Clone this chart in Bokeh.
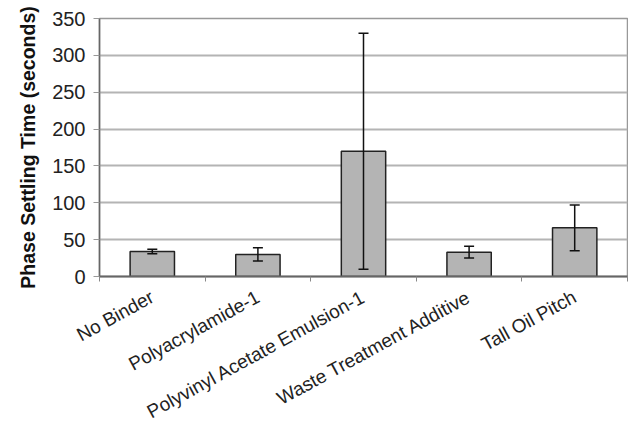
from bokeh.plotting import figure
from bokeh.models import ColumnDataSource, FixedTicker, Whisker, TeeHead, Range1d
from bokeh.embed import file_html
from bokeh.resources import INLINE

categories = ["No Binder", "Polyacrylamide-1", "Polyvinyl Acetate Emulsion-1",
              "Waste Treatment Additive", "Tall Oil Pitch"]
means = [34, 30, 170, 33, 66]
errors = [3, 9, 160, 8, 31]
y_ticks = [0, 50, 100, 150, 200, 250, 300, 350]

xs = [i + 0.5 for i in range(len(categories))]
src = ColumnDataSource(dict(
    x=xs, top=means,
    upper=[m + e for m, e in zip(means, errors)],
    lower=[m - e for m, e in zip(means, errors)],
))

p = figure(frame_width=528, frame_height=258, output_backend="svg", toolbar_location=None,
           x_range=Range1d(0, len(categories)), y_range=Range1d(0, 350),
           min_border_left=99, min_border_right=1, min_border_top=18, min_border_bottom=10)

p.ygrid.ticker = FixedTicker(ticks=y_ticks)
p.ygrid.grid_line_color = "#b4b4b4"
p.ygrid.grid_line_width = 2
p.xgrid.grid_line_color = None

p.vbar(x="x", top="top", width=0.42, source=src, fill_color="#b4b4b4",
       line_color="#222222", line_width=1.5)

w = Whisker(base="x", upper="upper", lower="lower", source=src, level="overlay",
            line_color="#111111", line_width=1.5,
            upper_head=TeeHead(size=10, line_color="#111111", line_width=1.5),
            lower_head=TeeHead(size=10, line_color="#111111", line_width=1.5))
p.add_layout(w)

p.xaxis.ticker = FixedTicker(ticks=xs, minor_ticks=list(range(len(categories) + 1)))
p.xaxis.major_label_overrides = {x: c for x, c in zip(xs, categories)}
p.xaxis.major_label_orientation = 0.5
p.xaxis.major_tick_out = 0
p.xaxis.major_tick_in = 0
p.xaxis.minor_tick_out = 5
p.xaxis.minor_tick_in = 0
p.xaxis.minor_tick_line_color = "#888888"
p.xaxis.axis_line_color = "#666666"
p.xaxis.axis_line_width = 2
p.xaxis.major_label_standoff = 14
p.xaxis.major_label_text_font = "Liberation Sans"
p.xaxis.major_label_text_font_size = "19px"
p.xaxis.major_label_text_color = "#222222"

p.yaxis.ticker = FixedTicker(ticks=y_ticks)
p.yaxis.minor_tick_line_color = None
p.yaxis.major_tick_out = 6
p.yaxis.major_tick_in = 0
p.yaxis.major_tick_line_color = "#999999"
p.yaxis.axis_line_color = "#666666"
p.yaxis.axis_line_width = 1.5
p.yaxis.major_label_standoff = 8
p.yaxis.major_label_text_font = "Liberation Sans"
p.yaxis.major_label_text_font_size = "20px"
p.yaxis.major_label_text_color = "#222222"
p.yaxis.axis_label = "Phase Settling Time (seconds)"
p.yaxis.axis_label_text_font = "Liberation Sans"
p.yaxis.axis_label_text_font_style = "bold"
p.yaxis.axis_label_text_font_size = "19.5px"
p.yaxis.axis_label_text_color = "#111111"
p.yaxis.axis_label_standoff = 10

p.outline_line_color = "#999999"
p.outline_line_width = 1.5

open("out.html", "w").write(file_html(p, INLINE))
